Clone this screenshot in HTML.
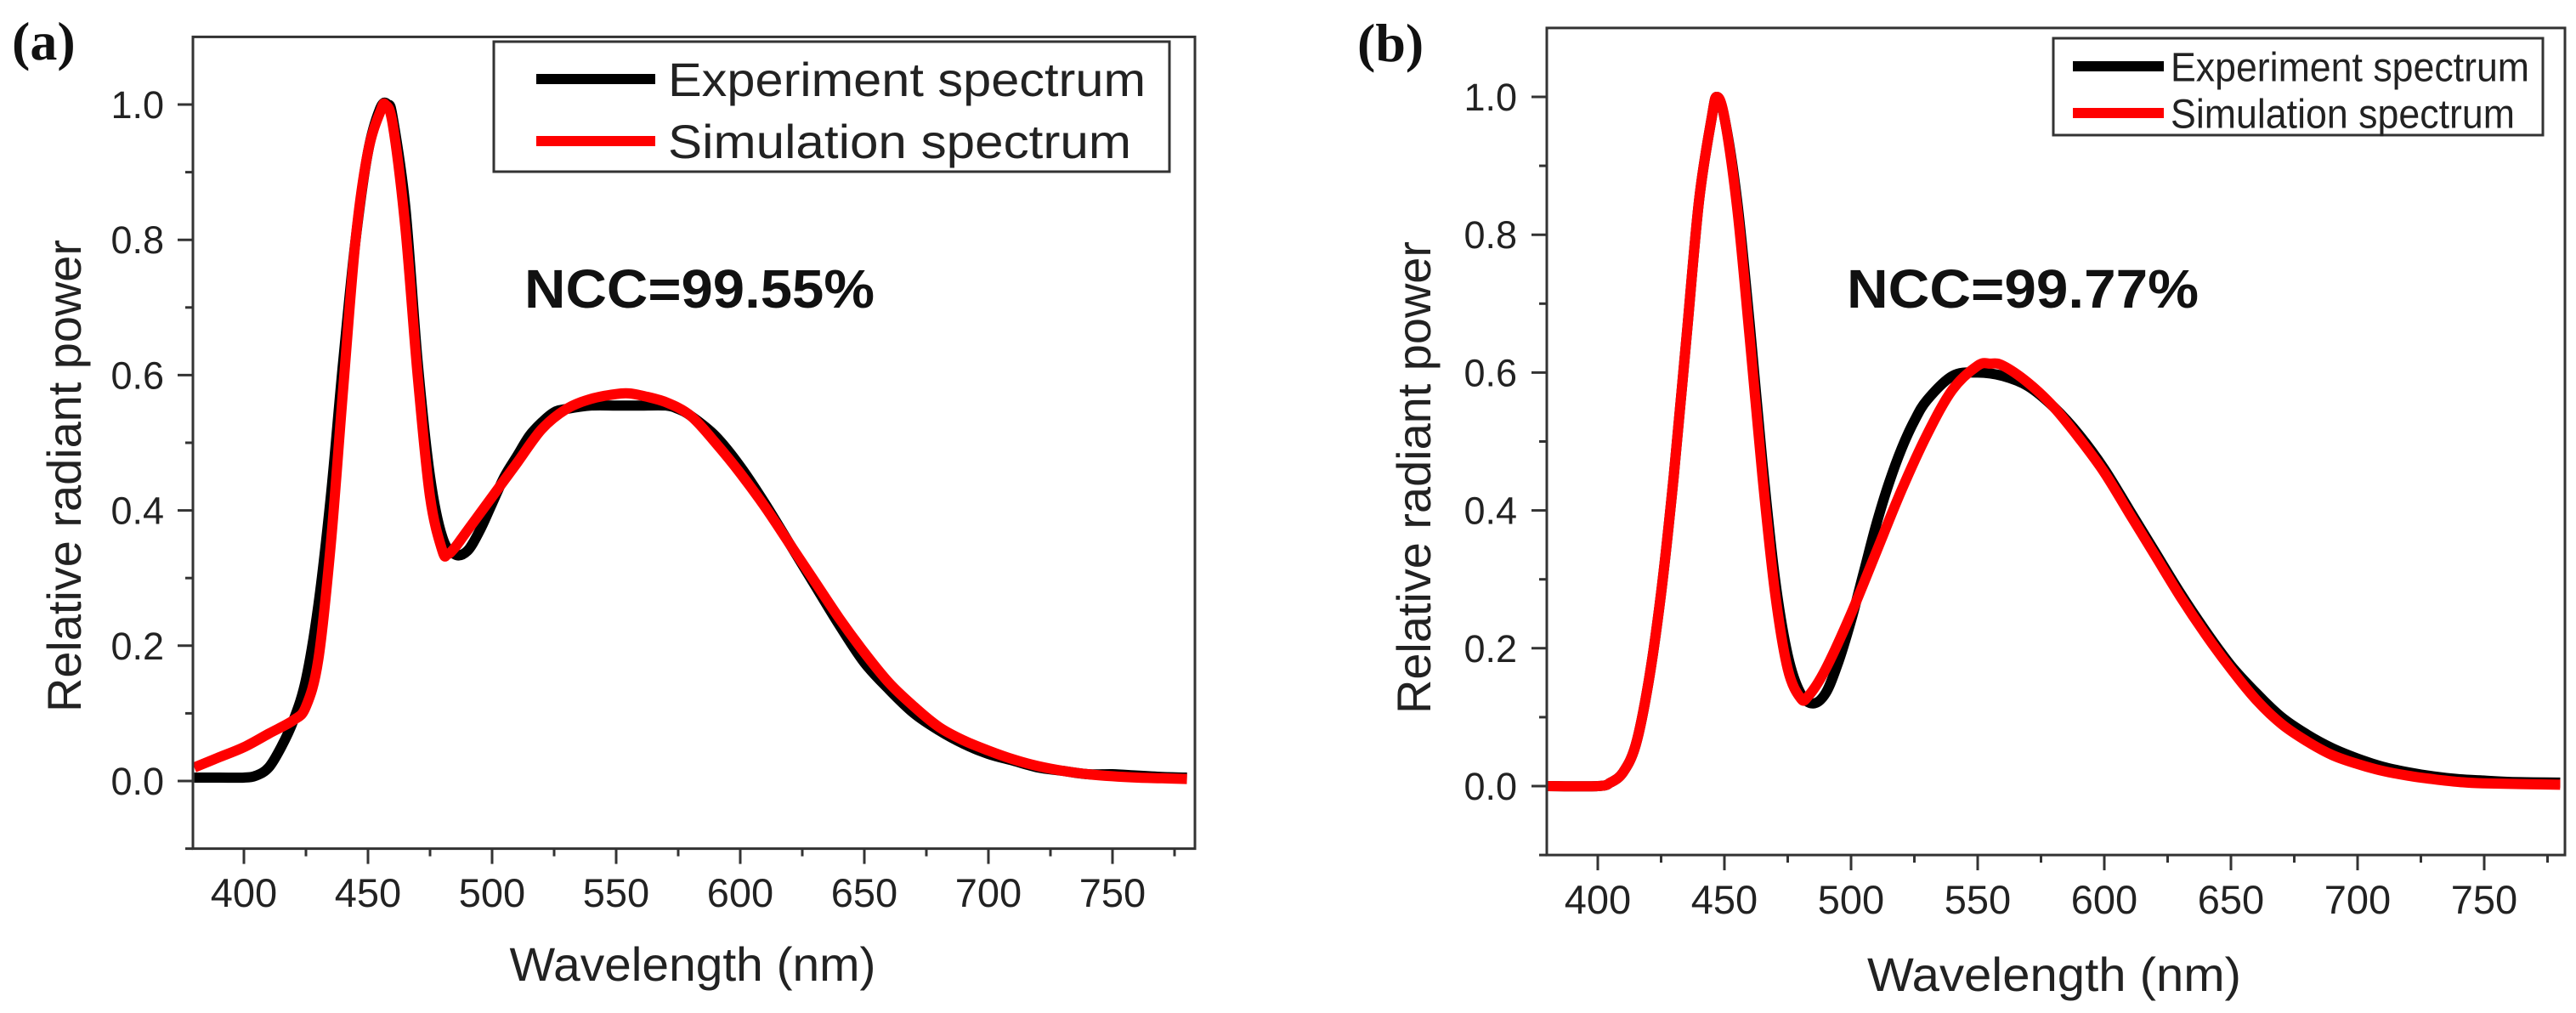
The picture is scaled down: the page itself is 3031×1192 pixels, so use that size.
<!DOCTYPE html>
<html><head><meta charset="utf-8"><style>
html,body{margin:0;padding:0;background:#fff;}
svg{display:block;}
text{font-family:"Liberation Sans",sans-serif;fill:#222;}
</style></head><body>
<svg id="fig" width="3031" height="1192" viewBox="0 0 3031 1192" xmlns="http://www.w3.org/2000/svg"></svg>
<script>
// ---- Panel (a) data ----
const aExpX = [380,390,400,405,410,415,420,425,430,435,440,445,450,455,458,460,465,470,475,480,485,490,495,500,505,510,515,520,525,530,540,550,560,570,575,580,590,600,610,620,630,640,650,660,670,680,690,700,710,720,730,740,750,760,770,780];
const aExpY = [0.005,0.005,0.005,0.008,0.02,0.05,0.09,0.15,0.26,0.42,0.62,0.80,0.93,0.995,1.0,0.98,0.85,0.62,0.45,0.36,0.335,0.34,0.37,0.41,0.45,0.48,0.51,0.53,0.545,0.55,0.555,0.555,0.555,0.555,0.55,0.54,0.51,0.465,0.41,0.35,0.29,0.23,0.175,0.135,0.1,0.075,0.055,0.04,0.03,0.02,0.015,0.01,0.01,0.008,0.006,0.005];
const aSimX = [380,390,400,410,420,425,430,435,440,445,450,455,457,460,465,470,475,480,482,485,490,500,510,520,530,540,550,555,560,570,580,590,600,610,620,630,640,650,660,670,680,690,700,710,720,730,740,750,760,770,780];
const aSimY = [0.02,0.035,0.05,0.07,0.09,0.11,0.18,0.35,0.58,0.80,0.93,0.99,1.0,0.97,0.82,0.60,0.42,0.34,0.335,0.345,0.37,0.42,0.47,0.52,0.55,0.565,0.572,0.573,0.57,0.56,0.54,0.50,0.455,0.405,0.35,0.295,0.24,0.19,0.145,0.11,0.08,0.06,0.045,0.032,0.022,0.015,0.01,0.007,0.005,0.004,0.003];
// ---- Panel (b) data ----
const bExpX = [380,400,405,410,415,420,425,430,435,440,445,447,450,455,460,465,470,475,480,485,490,495,500,505,510,515,520,525,530,540,550,560,570,580,590,600,610,620,630,640,650,660,670,680,690,700,710,720,730,740,750,760,780];
const bExpY = [0,0,0.005,0.02,0.06,0.15,0.28,0.45,0.65,0.85,0.97,1.0,0.97,0.85,0.67,0.47,0.3,0.19,0.135,0.12,0.135,0.18,0.24,0.31,0.38,0.44,0.49,0.53,0.56,0.595,0.60,0.595,0.58,0.55,0.51,0.46,0.40,0.34,0.28,0.225,0.175,0.135,0.1,0.075,0.055,0.04,0.028,0.02,0.014,0.01,0.008,0.006,0.005];
const bSimX = [380,400,405,410,415,420,425,430,435,440,445,447,450,455,460,465,470,475,480,483,490,500,510,520,530,540,550,555,560,570,580,590,600,610,620,630,640,650,660,670,680,690,700,710,720,730,740,750,780];
const bSimY = [0,0,0.005,0.02,0.06,0.15,0.28,0.45,0.65,0.85,0.97,1.0,0.97,0.84,0.65,0.45,0.28,0.17,0.128,0.13,0.17,0.25,0.34,0.43,0.51,0.575,0.61,0.613,0.61,0.585,0.55,0.505,0.455,0.395,0.335,0.275,0.22,0.17,0.125,0.09,0.065,0.045,0.032,0.022,0.015,0.01,0.006,0.004,0.002];
// ---- Axis labels ----
const xTicks = [400,450,500,550,600,650,700,750];
const xMinor = [425,475,525,575,625,675,725,775];
const yTicks = [0.0,0.2,0.4,0.6,0.8,1.0];
const yMinor = [-0.1,0.1,0.3,0.5,0.7,0.9];
const legendLabels = ["Experiment spectrum","Simulation spectrum"];

const NS = "http://www.w3.org/2000/svg";
const svg = document.getElementById('fig');
function mk(tag, attrs, parent, txt){
  const e = document.createElementNS(NS, tag);
  for (const k in attrs) e.setAttribute(k, attrs[k]);
  if (txt !== undefined) e.textContent = txt;
  (parent || svg).appendChild(e);
  return e;
}
function smoothPath(pts){
  let d = 'M' + pts[0][0].toFixed(1) + ',' + pts[0][1].toFixed(1);
  for (let i = 0; i < pts.length - 1; i++){
    const p0 = pts[Math.max(0, i - 1)], p1 = pts[i], p2 = pts[i + 1], p3 = pts[Math.min(pts.length - 1, i + 2)];
    const c1x = p1[0] + (p2[0] - p0[0]) / 6, c1y = p1[1] + (p2[1] - p0[1]) / 6;
    const c2x = p2[0] - (p3[0] - p1[0]) / 6, c2y = p2[1] - (p3[1] - p1[1]) / 6;
    d += 'C' + c1x.toFixed(1) + ',' + c1y.toFixed(1) + ' ' + c2x.toFixed(1) + ',' + c2y.toFixed(1) + ' ' + p2[0].toFixed(1) + ',' + p2[1].toFixed(1);
  }
  return d;
}

function panel(cfg){
  const g = mk('g', {});
  
  
  const X = v => cfg.x400 + (v - 400) * cfg.px50 / 50;
  const Y = v => cfg.y0 - v * cfg.pxUnit;
  const L = cfg.left, R = cfg.right, T = Y(1.1), B = Y(-0.1);
  const clipId = 'clip' + cfg.id;
  const defs = mk('defs', {}, g);
  const cp = mk('clipPath', {id: clipId}, defs);
  mk('rect', {x: L, y: T, width: R - L, height: B - T}, cp);

  const series = [[cfg.ex, cfg.ey, '#000', 'experiment-line'], [cfg.sx, cfg.sy, '#ff0000', 'simulation-line']];
  series.forEach(s => {
    const pts = s[0].map((v, i) => [X(v), Y(s[1][i])]);
    const p = mk('path', {d: smoothPath(pts), fill: 'none', stroke: s[2], 'stroke-width': 12, 'stroke-linejoin': 'round', 'clip-path': 'url(#' + clipId + ')'}, g);
    
    
  });

  const fr = mk('rect', {x: L, y: T, width: R - L, height: B - T, fill: 'none', stroke: '#333', 'stroke-width': 3}, g);
  
  

  xTicks.forEach(v => {
    mk('line', {x1: X(v), x2: X(v), y1: B, y2: B + 18, stroke: '#333', 'stroke-width': 3}, g);
    const t = mk('text', {x: X(v), y: cfg.xLabelY, 'text-anchor': 'middle', 'font-size': 47}, g, String(v));
    
    
  });
  xMinor.forEach(v => { if (X(v) < R) mk('line', {x1: X(v), x2: X(v), y1: B, y2: B + 9, stroke: '#333', 'stroke-width': 3}, g); });
  yTicks.forEach(v => {
    mk('line', {x1: L - 18, x2: L, y1: Y(v), y2: Y(v), stroke: '#333', 'stroke-width': 3}, g);
    const t = mk('text', {x: cfg.yLabelR, y: Y(v) + 16, 'text-anchor': 'end', 'font-size': 45}, g, v.toFixed(1));
    
    
  });
  yMinor.forEach(v => mk('line', {x1: L - 9, x2: L, y1: Y(v), y2: Y(v), stroke: '#333', 'stroke-width': 3}, g));

  const xt = mk('text', {x: cfg.xTitleX, y: cfg.xTitleY, 'text-anchor': 'middle', 'font-size': 56, textLength: cfg.xTitleW, lengthAdjust: 'spacingAndGlyphs'}, g, 'Wavelength (nm)');
  
  
  const yt = mk('text', {x: 0, y: 0, 'text-anchor': 'middle', 'font-size': 56, textLength: 556, lengthAdjust: 'spacingAndGlyphs', transform: 'translate(' + cfg.yTitleX + ',' + cfg.yTitleY + ') rotate(-90)'}, g, 'Relative radiant power');
  
  

  const pl = mk('text', {x: cfg.letterX, y: cfg.letterY, 'font-size': 64, 'font-weight': 'bold', style: 'font-family:"Liberation Serif",serif;fill:#111'}, g, '(' + cfg.id + ')');
  
  

  const nc = mk('text', {x: cfg.nccX, y: 362, 'font-size': 64, 'font-weight': 'bold', textLength: cfg.nccW, lengthAdjust: 'spacingAndGlyphs', style: 'fill:#111'}, g, cfg.ncc);
  
  

  const lg = mk('g', {}, g);
  
  
  mk('rect', {x: cfg.lg.x, y: cfg.lg.y, width: cfg.lg.w, height: cfg.lg.h, fill: '#fff', stroke: '#333', 'stroke-width': 3}, lg);
  legendLabels.forEach((lab, i) => {
    const cy = cfg.lg.rows[i];
    mk('line', {x1: cfg.lg.l1, x2: cfg.lg.l2, y1: cy, y2: cy, stroke: i ? '#ff0000' : '#000', 'stroke-width': 12}, lg);
    const t = mk('text', {x: cfg.lg.tx, y: cy + cfg.lg.fs * 0.36, 'font-size': cfg.lg.fs, textLength: cfg.lg.tw[i], lengthAdjust: 'spacingAndGlyphs'}, lg, lab);
    
    
  });
}

panel({id: 'a', ex: aExpX, ey: aExpY, sx: aSimX, sy: aSimY,
  x400: 287, px50: 146, y0: 919, pxUnit: 796, left: 227, right: 1406,
  xLabelY: 1067, yLabelR: 193, xTitleX: 815, xTitleY: 1154, xTitleW: 431,
  yTitleX: 95, yTitleY: 560, letterX: 14, letterY: 70,
  nccX: 617, nccW: 412, ncc: 'NCC=99.55%',
  lg: {x: 581, y: 49, w: 795, h: 153, rows: [93, 166], l1: 631, l2: 771, tx: 786, fs: 56, tw: [562, 545]}});

panel({id: 'b', ex: bExpX, ey: bExpY, sx: bSimX, sy: bSimY,
  x400: 1880, px50: 149, y0: 925, pxUnit: 811, left: 1820, right: 3018,
  xLabelY: 1075, yLabelR: 1785, xTitleX: 2417, xTitleY: 1166, xTitleW: 440,
  yTitleX: 1683, yTitleY: 562, letterX: 1597, letterY: 72,
  nccX: 2173, nccW: 414, ncc: 'NCC=99.77%',
  lg: {x: 2416, y: 45, w: 576, h: 114, rows: [78, 133], l1: 2439, l2: 2546, tx: 2554, fs: 48, tw: [422, 405]}});
</script>
</body></html>
